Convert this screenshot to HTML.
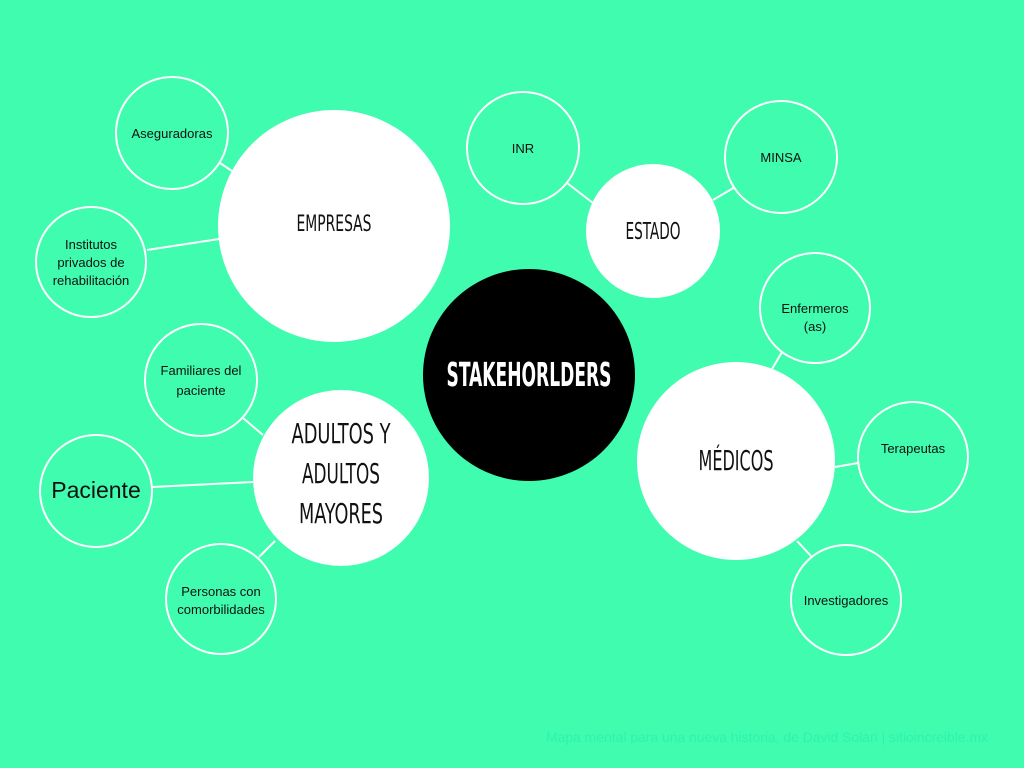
<!DOCTYPE html>
<html><head><meta charset="utf-8"><title>Stakeholders mind map</title>
<style>
html,body{margin:0;padding:0;background:#3ffcaf;width:1024px;height:768px;overflow:hidden}
svg{display:block}
</style></head>
<body>
<svg id="map" width="1024" height="768" viewBox="0 0 1024 768" xmlns="http://www.w3.org/2000/svg">
<rect x="0" y="0" width="1024" height="768" fill="#3ffcaf"/>
<g id="links"></g>
<g id="nodes"></g>
<text x="988" y="742" text-anchor="end" font-family="Liberation Sans, sans-serif" font-size="14" fill="#2ef3b0" textLength="442" lengthAdjust="spacingAndGlyphs">Mapa mental para una nueva historia, de David Solari | sitioincreible.mx</text>
</svg>
<script>
const NS='http://www.w3.org/2000/svg';
const mainNames=['stakeholders','empresas','estado','adultos','medicos'];
const mainCx=[529,334,653,341,736];
const mainCy=[375,226,231,478,461];
const mainR=[106,116,67,88,99];
const mainFill=['#000','#fff','#fff','#fff','#fff'];
const mainColor=['#fff','#111','#111','#111','#111'];
const mainLines=[['STAKEHORLDERS'],['EMPRESAS'],['ESTADO'],['ADULTOS  Y','ADULTOS','MAYORES']];
mainLines.push(['MÉDICOS']);
const mainSize=[33,22,23,28,28];
const mainWidths=[[165],[75],[55],[99,78,84],[75]];
const mainTextY=[[386],[231],[239],[443,483,523],[470]];
const leafNames=['aseguradoras','institutos','inr','minsa','enfermeros','terapeutas','investigadores','familiares','paciente','personas'];
const leafCx=[172,91,523,781,815,913,846,201,96,221];
const leafCy=[133,262,148,157,308,457,600,380,491,599];
const leafR=[56,55,56,56,55,55,55,56,56,55];
const leafLines=[['Aseguradoras'],['Institutos','privados de','rehabilitación'],['INR'],['MINSA'],['Enfermeros','(as)'],['Terapeutas'],['Investigadores'],['Familiares del','paciente'],['Paciente'],['Personas con','comorbilidades']];
const leafSize=[13,13,13,13,13,13,13,13,23,13];
const leafTextY=[[138],[249,267,285],[153],[162],[313,331],[453],[605],[375,395],[498],[596,614]];
const linkX1=[220,147,567,735,782,858,811,243,152,259];
const linkY1=[163,250,183,187,352,463,556,418,487,557];
const linkX2=[232,219,593,713,772,835,797,263,253,275];
const linkY2=[171,239,203,200,369,467,541,435,482,541];

const links=document.getElementById('links');
for(let i=0;i<linkX1.length;i++){
  const l=document.createElementNS(NS,'line');
  
  
  l.setAttribute('x1',linkX1[i]);l.setAttribute('y1',linkY1[i]);
  l.setAttribute('x2',linkX2[i]);l.setAttribute('y2',linkY2[i]);
  l.setAttribute('stroke','#fff');l.setAttribute('stroke-width','2');
  links.appendChild(l);
}
const nodes=document.getElementById('nodes');
for(let i=0;i<mainNames.length;i++){
  const g=document.createElementNS(NS,'g');
  
  
  const c=document.createElementNS(NS,'circle');
  
  
  c.setAttribute('cx',mainCx[i]);c.setAttribute('cy',mainCy[i]);c.setAttribute('r',mainR[i]);
  c.setAttribute('fill',mainFill[i]);
  g.appendChild(c);
  mainLines[i].forEach((s,j)=>{
    const t=document.createElementNS(NS,'text');
    
    
    t.setAttribute('x',mainCx[i]);t.setAttribute('y',mainTextY[i][j]);
    t.setAttribute('text-anchor','middle');
    t.setAttribute('font-family','Liberation Sans Narrow, DejaVu Sans Condensed, sans-serif');
    t.setAttribute('font-size',mainSize[i]);
    if(i===0)t.setAttribute('font-weight','bold');
    t.setAttribute('fill',mainColor[i]);
    t.setAttribute('textLength',mainWidths[i][j]);
    t.setAttribute('lengthAdjust','spacingAndGlyphs');
    t.textContent=s;
    g.appendChild(t);
  });
  nodes.appendChild(g);
}
for(let i=0;i<leafNames.length;i++){
  const g=document.createElementNS(NS,'g');
  
  
  const c=document.createElementNS(NS,'circle');
  
  
  c.setAttribute('cx',leafCx[i]);c.setAttribute('cy',leafCy[i]);c.setAttribute('r',leafR[i]);
  c.setAttribute('fill','none');c.setAttribute('stroke','#fff');c.setAttribute('stroke-width','2');
  g.appendChild(c);
  leafLines[i].forEach((s,j)=>{
    const t=document.createElementNS(NS,'text');
    
    
    t.setAttribute('x',leafCx[i]);t.setAttribute('y',leafTextY[i][j]);
    t.setAttribute('text-anchor','middle');
    t.setAttribute('font-family','Liberation Sans, sans-serif');
    t.setAttribute('font-size',leafSize[i]);
    t.setAttribute('fill','#111');
    t.textContent=s;
    g.appendChild(t);
  });
  nodes.appendChild(g);
}
</script>
</body></html>
